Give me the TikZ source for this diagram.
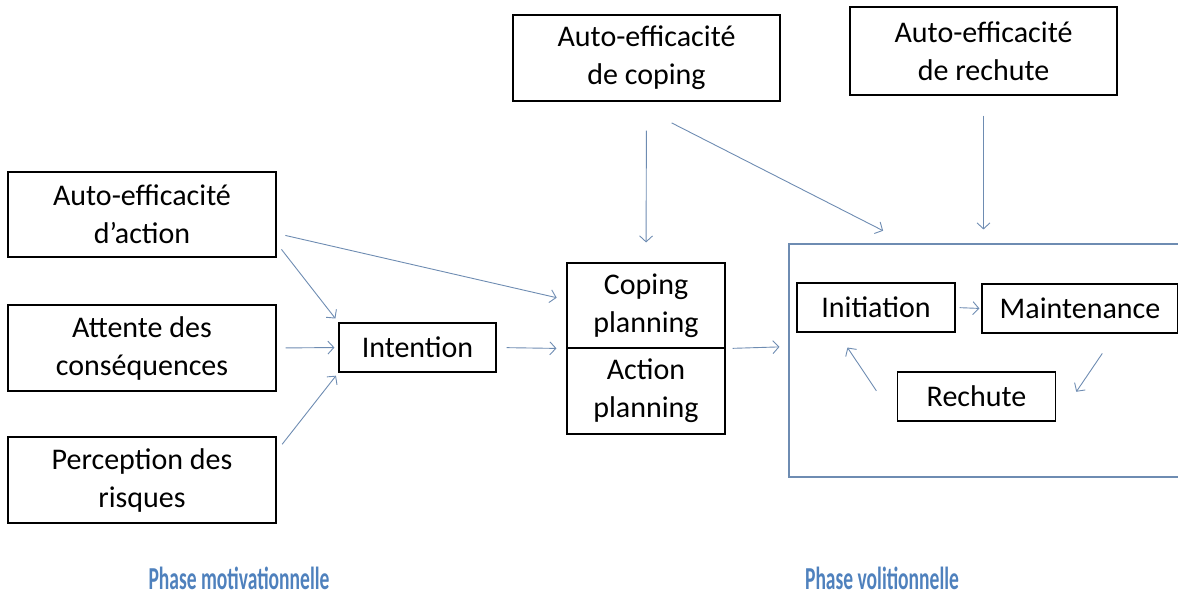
\documentclass[tikz,border=0pt]{standalone}
\usepackage{fontspec}
\setmainfont{Carlito}
\usetikzlibrary{arrows.meta}
\definecolor{arrowblue}{RGB}{110,140,178}
\definecolor{phaseblue}{RGB}{79,129,189}
\begin{document}
\begin{tikzpicture}[x=1pt, y=-1pt,
 box/.style={draw, line width=1.1pt, inner sep=0pt, align=center, font=\fontsize{30}{38}\selectfont},
 arr/.style={-{Straight Barb[length=6pt, width=13pt]}, draw=arrowblue, line width=0.9pt},
 phase/.style={text=phaseblue, font=\fontsize{32}{36}\selectfont\bfseries}]
 \useasboundingbox (0,0) rectangle (1178,600);
 \node[box, minimum width=267pt, minimum height=86pt] (cope) at (646.5,58) {Auto-efficacité\\de coping};
 \node[box, minimum width=267pt, minimum height=88pt] (relapse) at (983.5,51) {Auto-efficacité\\de rechute};
 \node[box, minimum width=268pt, minimum height=85pt] (action) at (142,214.5) {Auto-efficacité\\d’action};
 \node[box, minimum width=268pt, minimum height=86pt] (attente) at (142,348) {Attente des\\conséquences};
 \node[box, minimum width=268pt, minimum height=86pt] (perc) at (142,480) {Perception des\\risques};
 \node[box, minimum width=157pt, minimum height=49pt] (int) at (417.5,347.5) {Intention};
 \node[box, minimum width=158pt, minimum height=85pt] (cplan) at (646,305.5) {Coping\\planning};
 \node[box, minimum width=158pt, minimum height=86pt] (aplan) at (646,391) {Action\\planning};
 \node[box, draw=arrowblue, minimum width=396pt, minimum height=233pt] (volit) at (987,360.5) {};
 \node[box, minimum width=158pt, minimum height=49pt] (init) at (876,307.5) {Initiation};
 \node[box, minimum width=196pt, minimum height=49pt] (maint) at (1080,308.5) {Maintenance};
 \node[box, minimum width=158pt, minimum height=49pt] (rech) at (976.5,396.5) {Rechute};
 \node[phase] (motiv) at (239,578) {\scalebox{0.61}[1]{Phase motivationnelle}};
 \node[phase] (volphase) at (882,578) {\scalebox{0.61}[1]{Phase volitionnelle}};
 \draw[arr, shorten <=9pt, shorten >=10pt] (action.-8) -- (cplan.176);
 \draw[arr, shorten <=8pt, shorten >=5pt] (action.-12) -- (int.north west);
 \draw[arr, shorten <=9pt, shorten >=4pt] (attente.east) -- (int.west);
 \draw[arr, shorten <=9pt, shorten >=4pt] (perc.12) -- (int.south west);
 \draw[arr, shorten <=10pt, shorten >=10pt] (int.east) -- (cplan.south west);
 \draw[arr, shorten <=7pt, shorten >=9pt] (cplan.south east) -- (volit.176.5);
 \draw[arr, shorten <=29pt, shorten >=20pt] (cope.south) -- (cplan.north);
 \draw[arr, shorten <=47pt, shorten >=28pt] (cope.-111) -- (volit.124);
 \draw[arr, shorten <=20pt, shorten >=14pt] (relapse.south) -- (volit.north -| relapse.south);
 \draw[arr, shorten <=4pt, shorten >=2pt] (init.east) -- (maint.west);
 \draw[arr, shorten <=24pt, shorten >=36pt] (maint.-35) -- (rech.south east);
 \draw[arr, shorten <=37pt, shorten >=18pt] (rech.south west) -- (init.-147);
\end{tikzpicture}
\end{document}
